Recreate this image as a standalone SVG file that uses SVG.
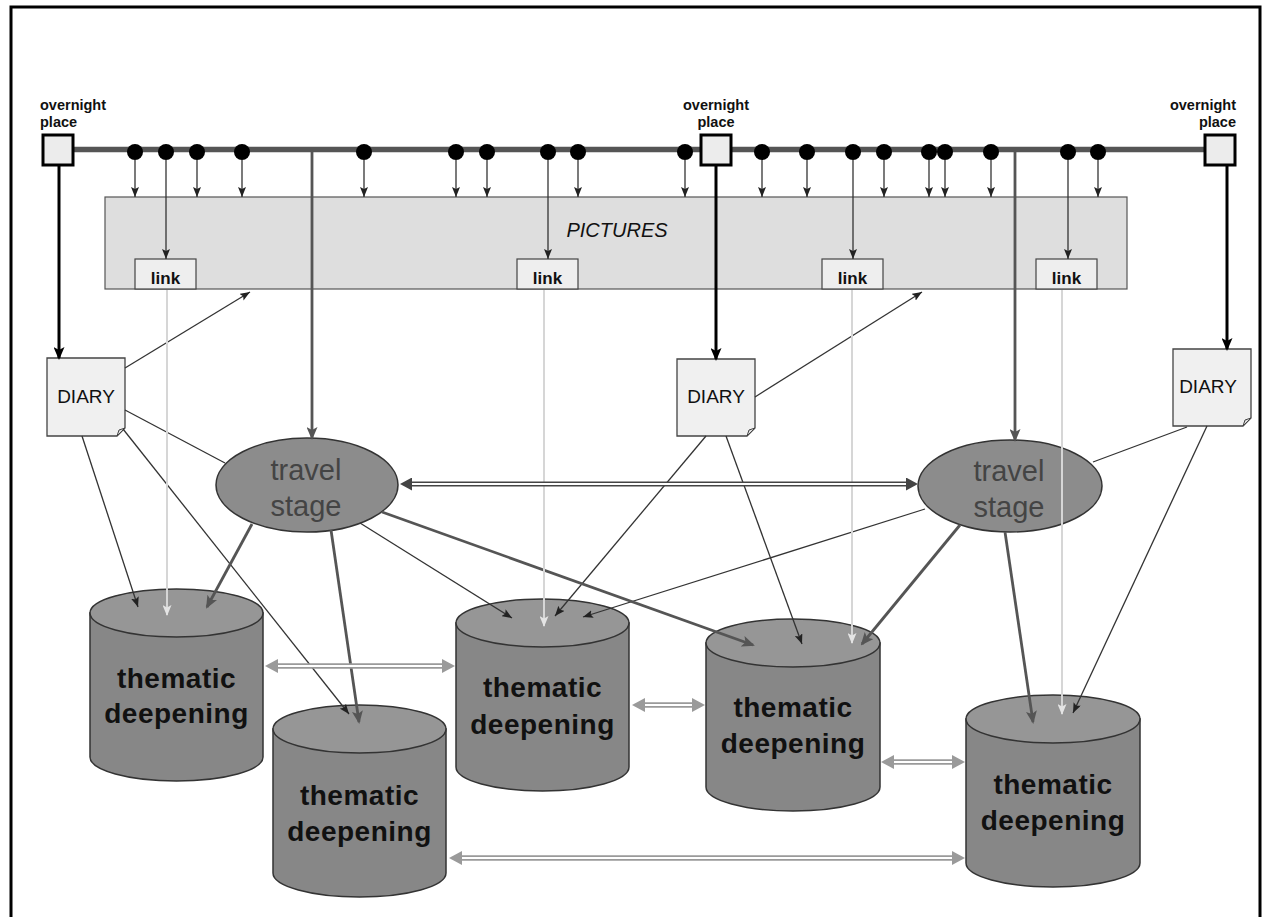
<svg xmlns="http://www.w3.org/2000/svg" width="1267" height="917" viewBox="0 0 1267 917">
<style>
text{font-family:"Liberation Sans",Arial,sans-serif}
.lbl{font-size:14.5px;font-weight:bold;fill:#111}
.sq{fill:#ececec;stroke:#000;stroke-width:3}
.dot{fill:#000}
.pic{fill:#dedede;stroke:#555;stroke-width:1.2}
.lnk{fill:#eeeeee;stroke:#444;stroke-width:1.2}
.lnkt{font-size:17px;font-weight:bold;fill:#111;text-anchor:middle}
.diary{fill:#f0f0f0;stroke:#444;stroke-width:1.3}
.fold{fill:#ddd;stroke:#444;stroke-width:1}
.dt{font-size:19px;fill:#111;text-anchor:middle}
.ts{fill:#8c8c8c;stroke:#333;stroke-width:1.5}
.tst{font-size:29px;fill:#444;text-anchor:middle}
.cb{fill:#878787;stroke:#333;stroke-width:1.5}
.ct{fill:#969696;stroke:#333;stroke-width:1.5}
.cyt{font-size:28px;font-weight:bold;fill:#111;text-anchor:middle;letter-spacing:0.5px}
.thin{stroke:#333;stroke-width:1.3;fill:none}
.thick{stroke:#555;stroke-width:2.8;fill:none}
.blk{stroke:#000;stroke-width:3;fill:none}
.lt{stroke:#d6d6d6;stroke-width:2;fill:none}
.dd{stroke:#444;stroke-width:5;fill:none}
.dg{stroke:#9a9a9a;stroke-width:5.5;fill:none}
.dw{stroke:#fff;stroke-width:1.8;fill:none}
</style>
<defs>
<marker id="aThin" markerUnits="userSpaceOnUse" markerWidth="10" markerHeight="8" refX="10" refY="4" orient="auto"><path d="M0,0 L10,4 L0,8 L2,4 z" fill="#222"/></marker>
<marker id="aThick" markerUnits="userSpaceOnUse" markerWidth="13" markerHeight="11" refX="11" refY="5.5" orient="auto"><path d="M0,0 L13,5.5 L0,11 L3,5.5 z" fill="#555"/></marker>
<marker id="aBlk" markerUnits="userSpaceOnUse" markerWidth="13" markerHeight="11" refX="11" refY="5.5" orient="auto"><path d="M0,0 L13,5.5 L0,11 L3,5.5 z" fill="#000"/></marker>
<marker id="aLt" markerUnits="userSpaceOnUse" markerWidth="11" markerHeight="9" refX="10" refY="4.5" orient="auto"><path d="M0,0 L11,4.5 L0,9 L2.5,4.5 z" fill="#e4e4e4"/></marker>
<marker id="aDd" markerUnits="userSpaceOnUse" markerWidth="12" markerHeight="13" refX="0" refY="6.5" orient="auto-start-reverse"><path d="M0,0 L12,6.5 L0,13 z" fill="#444"/></marker>
<marker id="aDg" markerUnits="userSpaceOnUse" markerWidth="13" markerHeight="14" refX="0" refY="7" orient="auto-start-reverse"><path d="M0,0 L13,7 L0,14 z" fill="#9a9a9a"/></marker>
</defs>
<rect width="1267" height="917" fill="#fff"/>
<path d="M11,920 V7 H1260 V920" fill="none" stroke="#000" stroke-width="3"/>

<g id="pictures">
<rect class="pic" x="105" y="197" width="1022" height="92"/>
<text x="617" y="237" font-size="20" font-style="italic" fill="#111" text-anchor="middle">PICTURES</text>
</g>
<g id="link1"><rect class="lnk" x="135" y="259" width="61" height="30"/><text class="lnkt" x="165.5" y="284">link</text></g>
<g id="link2"><rect class="lnk" x="517" y="259" width="61" height="30"/><text class="lnkt" x="547.5" y="284">link</text></g>
<g id="link3"><rect class="lnk" x="822" y="259" width="61" height="30"/><text class="lnkt" x="852.5" y="284">link</text></g>
<g id="link4"><rect class="lnk" x="1036" y="259" width="61" height="30"/><text class="lnkt" x="1066.5" y="284">link</text></g>

<g id="timeline">
<line x1="73" y1="149.5" x2="1205" y2="149.5" stroke="#555" stroke-width="5.5"/>
<g class="dot">
<circle cx="135" cy="152" r="8"/><circle cx="166" cy="152" r="8"/><circle cx="197" cy="152" r="8"/><circle cx="242" cy="152" r="8"/><circle cx="364" cy="152" r="8"/><circle cx="456" cy="152" r="8"/><circle cx="487" cy="152" r="8"/><circle cx="548" cy="152" r="8"/><circle cx="578" cy="152" r="8"/><circle cx="685" cy="152" r="8"/><circle cx="762" cy="152" r="8"/><circle cx="807" cy="152" r="8"/><circle cx="853" cy="152" r="8"/><circle cx="884" cy="152" r="8"/><circle cx="929" cy="152" r="8"/><circle cx="945" cy="152" r="8"/><circle cx="991" cy="152" r="8"/><circle cx="1068" cy="152" r="8"/><circle cx="1098" cy="152" r="8"/>
</g>
</g>

<g id="overnight1"><rect class="sq" x="43" y="135" width="30" height="30"/><text class="lbl" x="40" y="110">overnight</text><text class="lbl" x="40" y="127">place</text></g>
<g id="overnight2"><rect class="sq" x="701" y="135" width="30" height="30"/><text class="lbl" x="716" y="110" text-anchor="middle">overnight</text><text class="lbl" x="716" y="127" text-anchor="middle">place</text></g>
<g id="overnight3"><rect class="sq" x="1205" y="135" width="30" height="30"/><text class="lbl" x="1236" y="110" text-anchor="end">overnight</text><text class="lbl" x="1236" y="127" text-anchor="end">place</text></g>

<g id="diary1"><path class="diary" d="M47,358 H125 V428 L117,436 H47 Z"/><path class="fold" d="M125,428 L119,430 L117,436 Z"/><text class="dt" x="86" y="403">DIARY</text></g>
<g id="diary2"><path class="diary" d="M677,359 H755 V428 L747,436 H677 Z"/><path class="fold" d="M755,428 L749,430 L747,436 Z"/><text class="dt" x="716" y="403">DIARY</text></g>
<g id="diary3"><path class="diary" d="M1173,349 H1251 V418 L1243,426 H1173 Z"/><path class="fold" d="M1251,418 L1245,420 L1243,426 Z"/><text class="dt" x="1208" y="393">DIARY</text></g>

<g id="travel1"><ellipse class="ts" cx="307" cy="485" rx="91" ry="47"/><text class="tst" x="306" y="480">travel</text><text class="tst" x="306" y="516">stage</text></g>
<g id="travel2"><ellipse class="ts" cx="1010" cy="486" rx="92" ry="46"/><text class="tst" x="1009" y="481">travel</text><text class="tst" x="1009" y="517">stage</text></g>

<g id="cyl1"><path class="cb" d="M90,613 V757 A86.5,24 0 0 0 263,757 V613 Z"/><ellipse class="ct" cx="176.5" cy="613" rx="86.5" ry="24"/><text class="cyt" x="176.5" y="688">thematic</text><text class="cyt" x="176.5" y="723">deepening</text></g>
<g id="cyl2"><path class="cb" d="M273,729 V873 A86.5,24 0 0 0 446,873 V729 Z"/><ellipse class="ct" cx="359.5" cy="729" rx="86.5" ry="24"/><text class="cyt" x="359.5" y="805">thematic</text><text class="cyt" x="359.5" y="841">deepening</text></g>
<g id="cyl3"><path class="cb" d="M456,623 V767 A86.5,24 0 0 0 629,767 V623 Z"/><ellipse class="ct" cx="542.5" cy="623" rx="86.5" ry="24"/><text class="cyt" x="542.5" y="697">thematic</text><text class="cyt" x="542.5" y="734">deepening</text></g>
<g id="cyl4"><path class="cb" d="M706,643 V787 A87,24 0 0 0 880,787 V643 Z"/><ellipse class="ct" cx="793" cy="643" rx="87" ry="24"/><text class="cyt" x="793" y="717">thematic</text><text class="cyt" x="793" y="753">deepening</text></g>
<g id="cyl5"><path class="cb" d="M966,719 V863 A87,24 0 0 0 1140,863 V719 Z"/><ellipse class="ct" cx="1053" cy="719" rx="87" ry="24"/><text class="cyt" x="1053" y="794">thematic</text><text class="cyt" x="1053" y="830">deepening</text></g>

<g id="connectors">
<g marker-end="url(#aThin)" class="thin">
<line x1="135" y1="160" x2="135" y2="197"/><line x1="197" y1="160" x2="197" y2="197"/><line x1="242" y1="160" x2="242" y2="197"/><line x1="364" y1="160" x2="364" y2="197"/><line x1="456" y1="160" x2="456" y2="197"/><line x1="487" y1="160" x2="487" y2="197"/><line x1="578" y1="160" x2="578" y2="197"/><line x1="685" y1="160" x2="685" y2="197"/><line x1="762" y1="160" x2="762" y2="197"/><line x1="807" y1="160" x2="807" y2="197"/><line x1="884" y1="160" x2="884" y2="197"/><line x1="929" y1="160" x2="929" y2="197"/><line x1="945" y1="160" x2="945" y2="197"/><line x1="991" y1="160" x2="991" y2="197"/><line x1="1098" y1="160" x2="1098" y2="197"/>
<line x1="166" y1="160" x2="166" y2="259"/><line x1="548" y1="160" x2="548" y2="259"/><line x1="853" y1="160" x2="853" y2="259"/><line x1="1068" y1="160" x2="1068" y2="259"/>
<line x1="125" y1="368" x2="250" y2="292"/>
<line x1="82" y1="436" x2="138" y2="607"/>
<line x1="123" y1="429" x2="349" y2="714"/>
<line x1="360" y1="523" x2="512" y2="618"/>
<line x1="755" y1="397" x2="922" y2="292"/>
<line x1="706" y1="436" x2="555" y2="616"/>
<line x1="726" y1="436" x2="802" y2="644"/>
<line x1="925" y1="509" x2="583" y2="617"/>
<line x1="1207" y1="426" x2="1073" y2="713"/>
</g>
<line class="thin" x1="125" y1="410" x2="225" y2="463"/>
<line class="thin" x1="1093" y1="462" x2="1187" y2="427"/>
<g marker-end="url(#aThick)" class="thick">
<line x1="312" y1="152" x2="312" y2="438"/>
<line x1="1015" y1="152" x2="1015" y2="440"/>
<line x1="252" y1="524" x2="207" y2="607"/>
<line x1="331" y1="530" x2="359" y2="722"/>
<line x1="382" y1="512" x2="753" y2="645"/>
<line x1="960" y1="525" x2="862" y2="644"/>
<line x1="1005" y1="532" x2="1033" y2="722"/>
</g>
<g marker-end="url(#aBlk)" class="blk">
<line x1="59" y1="166" x2="59" y2="358"/>
<line x1="716" y1="166" x2="716" y2="359"/>
<line x1="1227" y1="166" x2="1227" y2="349"/>
</g>
<g marker-end="url(#aLt)" class="lt">
<line x1="167" y1="290" x2="167" y2="615"/>
<line x1="544" y1="290" x2="544" y2="626"/>
<line x1="852" y1="290" x2="852" y2="643"/>
<line x1="1062" y1="290" x2="1062" y2="714"/>
</g>
<line class="dd" x1="412" y1="484" x2="906" y2="484" marker-start="url(#aDd)" marker-end="url(#aDd)"/>
<line class="dw" x1="412" y1="484" x2="906" y2="484"/>
<g class="dg" marker-start="url(#aDg)" marker-end="url(#aDg)">
<line x1="278" y1="666" x2="442" y2="666"/>
<line x1="645" y1="705" x2="692" y2="705"/>
<line x1="894" y1="762" x2="952" y2="762"/>
<line x1="462" y1="858" x2="952" y2="858"/>
</g>
<g class="dw">
<line x1="278" y1="666" x2="442" y2="666"/>
<line x1="645" y1="705" x2="692" y2="705"/>
<line x1="894" y1="762" x2="952" y2="762"/>
<line x1="462" y1="858" x2="952" y2="858"/>
</g>
</g>
</svg>
